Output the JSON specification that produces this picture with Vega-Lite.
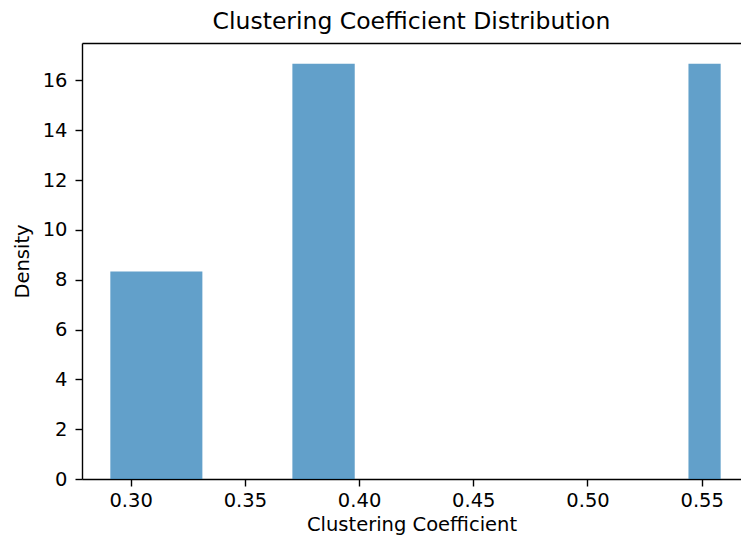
{
  "$schema": "https://vega.github.io/schema/vega-lite/v6.json",
  "width": 659,
  "height": 436,
  "autosize": {"type": "none"},
  "padding": {"left": 82, "top": 43, "right": 0, "bottom": 65},
  "background": "white",
  "config": {
    "font": "DejaVu Sans",
    "view": {"stroke": null},
    "axis": {
      "domainColor": "black",
      "domainWidth": 1.4,
      "tickColor": "black",
      "tickWidth": 1.4,
      "tickSize": 7,
      "labelColor": "black",
      "titleColor": "black",
      "labelFont": "DejaVu Sans",
      "titleFont": "DejaVu Sans",
      "labelFontSize": 19.5,
      "titleFontSize": 19.5,
      "titleFontWeight": "normal",
      "grid": false
    }
  },
  "title": {
    "text": "Clustering Coefficient Distribution",
    "font": "DejaVu Sans",
    "fontSize": 23.5,
    "fontWeight": "normal",
    "color": "black",
    "anchor": "middle",
    "offset": 10
  },
  "data": {
    "values": [
      {"lo": 0.2911, "hi": 0.3314, "density": 8.333},
      {"lo": 0.3708, "hi": 0.3981, "density": 16.667},
      {"lo": 0.5442, "hi": 0.5583, "density": 16.667}
    ]
  },
  "resolve": {"axis": {"x": "independent"}},
  "layer": [
    {
      "mark": {"type": "rect", "color": "#1f77b4", "opacity": 0.7},
      "encoding": {
        "x": {
          "field": "lo",
          "type": "quantitative",
          "scale": {"domain": [0.2787, 0.5672], "nice": false, "zero": false},
          "axis": {
            "orient": "bottom",
            "values": [0.30, 0.35, 0.40, 0.45, 0.50, 0.55],
            "format": ".2f",
            "title": "Clustering Coefficient",
            "labelPadding": 5,
            "titlePadding": 6
          }
        },
        "x2": {"field": "hi"},
        "y": {
          "field": "density",
          "type": "quantitative",
          "scale": {"domain": [0, 17.5], "nice": false},
          "axis": {
            "values": [0, 2, 4, 6, 8, 10, 12, 14, 16],
            "title": "Density",
            "labelPadding": 8,
            "titlePadding": 10
          }
        },
        "y2": {"datum": 0}
      }
    },
    {
      "mark": {"type": "point", "opacity": 0},
      "encoding": {
        "x": {
          "field": "lo",
          "type": "quantitative",
          "axis": {
            "orient": "top",
            "labels": false,
            "ticks": false,
            "title": null,
            "domain": true
          }
        },
        "y": {"field": "density", "type": "quantitative"}
      }
    }
  ]
}
